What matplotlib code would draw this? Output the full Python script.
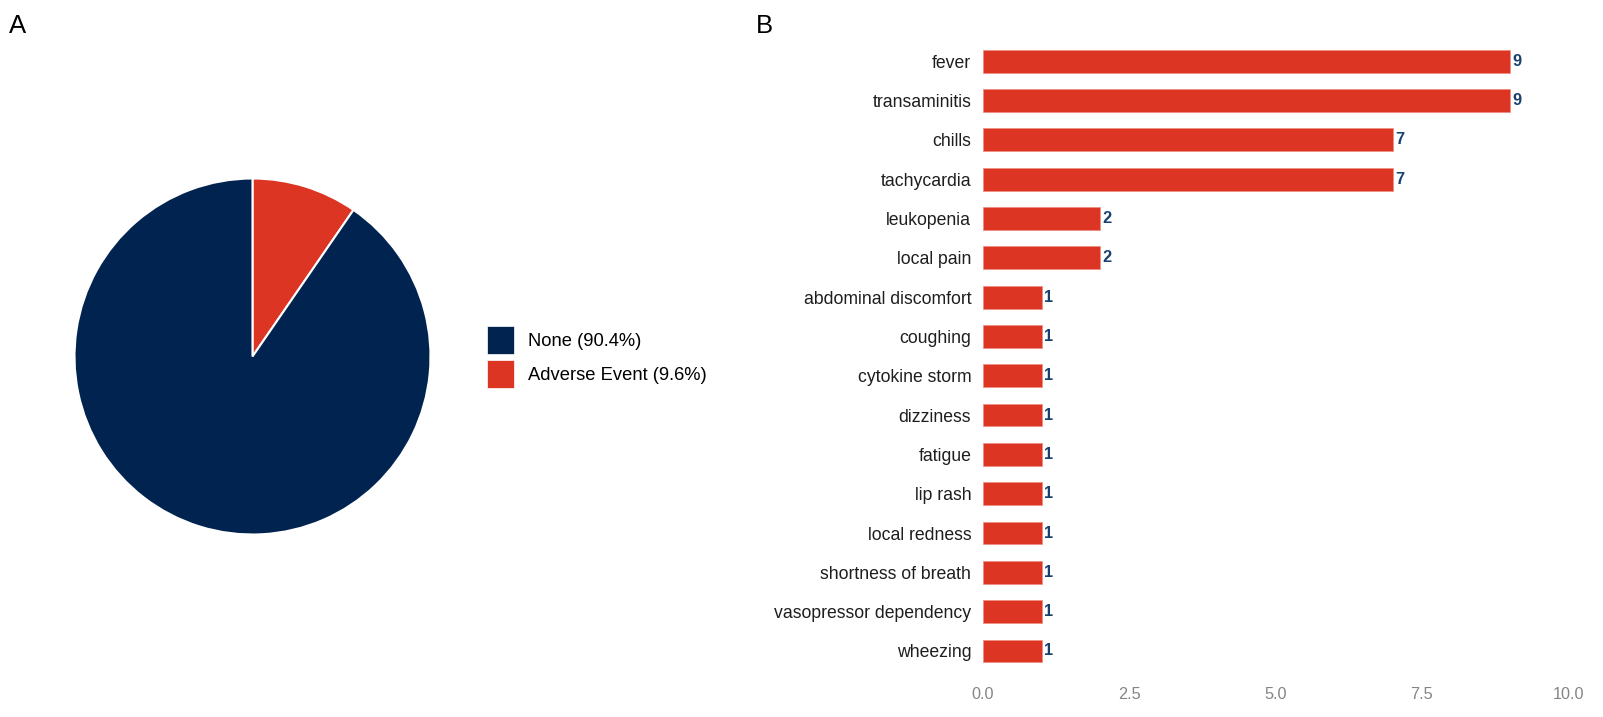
import matplotlib
matplotlib.use("Agg")
import matplotlib.pyplot as plt
from matplotlib.patches import Patch, Rectangle
from matplotlib.legend_handler import HandlerPatch

plt.rcParams["font.family"] = ["Liberation Sans", "DejaVu Sans"]

NAVY = "#01234f"
RED = "#dd3524"
LABEL_BLUE = "#17406e"
TICK_GREY = "#858585"

pie_labels = ["None (90.4%)", "Adverse Event (9.6%)"]
pie_shares = [90.4, 9.6]

events = [
    "fever", "transaminitis", "chills", "tachycardia", "leukopenia",
    "local pain", "abdominal discomfort", "coughing", "cytokine storm",
    "dizziness", "fatigue", "lip rash", "local redness",
    "shortness of breath", "vasopressor dependency", "wheezing",
]
counts = [9, 9, 7, 7, 2, 2, 1, 1, 1, 1, 1, 1, 1, 1, 1, 1]
x_ticks = [0.0, 2.5, 5.0, 7.5, 10.0]

W, H = 1603, 717
fig = plt.figure(figsize=(W / 100, H / 100), dpi=100)

# panel A: pie
r = 178
cx, cy = 252.5, 356.5
ax_pie = fig.add_axes([(cx - r) / W, (H - cy - r) / H, 2 * r / W, 2 * r / H])
# red slice runs clockwise from 12 o'clock, navy takes the rest
ax_pie.pie(
    [pie_shares[1], pie_shares[0]],
    colors=[RED, NAVY],
    startangle=90,
    counterclock=False,
    radius=1,
    wedgeprops=dict(edgecolor="white", linewidth=1.5),
)
ax_pie.set_xlim(-1, 1)
ax_pie.set_ylim(-1, 1)
ax_pie.set_aspect("equal")
ax_pie.axis("off")


def square_patch(legend, orig_handle, xdescent, ydescent, width, height, fontsize):
    # square keys, centred on the handle box
    return Rectangle((-xdescent, -ydescent + height / 2 - width / 2), width, width)


handles = [Patch(facecolor=NAVY, edgecolor="white", linewidth=0.5),
           Patch(facecolor=RED, edgecolor="white", linewidth=0.5)]
fig.legend(
    handles, pie_labels,
    loc="upper left", bbox_to_anchor=(486.7 / W, 1 - 328.6 / H),
    frameon=False, fontsize=13.2, handlelength=1.506, handleheight=1.5,
    labelspacing=0.63, handletextpad=0.75, borderpad=0, borderaxespad=0,
    handler_map={Patch: HandlerPatch(patch_func=square_patch)},
)

# panel B: horizontal bars
x0, x10 = 983, 1568
y_first, y_last = 61.2, 651
step = (y_last - y_first) / (len(events) - 1)
top = y_first - 0.5 * step
bottom = y_last + 0.5 * step
ax_bar = fig.add_axes([x0 / W, 1 - bottom / H, (x10 - x0) / W, (bottom - top) / H])
ypos = list(range(len(events)))
ax_bar.barh(ypos, counts, height=0.58, color=RED, edgecolor="#f08a7c", linewidth=0.5)
for y, c in zip(ypos, counts):
    ax_bar.text(c + 0.045, y, str(c), va="center", ha="left",
                color=LABEL_BLUE, fontsize=11.8, fontweight="bold")
ax_bar.set_xlim(0, 10)
ax_bar.set_ylim(len(events) - 0.5, -0.5)
ax_bar.set_yticks(ypos)
ax_bar.set_yticklabels(events, fontsize=12.7, color="#1e1e1e")
ax_bar.set_xticks(x_ticks)
ax_bar.set_xticklabels([f"{t:.1f}" for t in x_ticks], fontsize=11.7, color=TICK_GREY)
ax_bar.tick_params(axis="both", length=0)
ax_bar.tick_params(axis="y", pad=8.5)
ax_bar.tick_params(axis="x", pad=11.5)
for s in ax_bar.spines.values():
    s.set_visible(False)

fig.text(9 / W, 1 - 33.3 / H, "A", fontsize=18.5, va="baseline", ha="left")
fig.text(756 / W, 1 - 33.3 / H, "B", fontsize=18.5, va="baseline", ha="left")

fig.savefig("out.png", dpi=100)
